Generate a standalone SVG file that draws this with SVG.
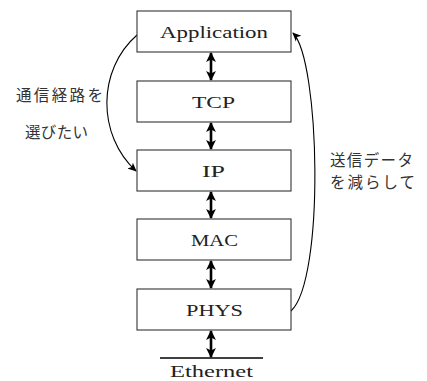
<svg xmlns="http://www.w3.org/2000/svg" width="427" height="381" viewBox="0 0 427 381">
<style>
.box{fill:#fff;stroke:#333;stroke-width:1.1}
.lbl{font-family:"Liberation Serif","DejaVu Serif",serif;font-size:17px;fill:#222;text-anchor:middle}
.jp{font-family:"Noto Sans CJK JP","Noto Sans",sans-serif;font-size:15.5px;fill:#333}
.dbl{stroke:#000;stroke-width:2.6;fill:none;marker-start:url(#hs);marker-end:url(#he)}
.crv{stroke:#000;stroke-width:1.1;fill:none;marker-end:url(#ha)}
</style>
<defs>
<marker id="he" viewBox="0 0 10 10" refX="9" refY="5" markerWidth="3.8" markerHeight="3.8" orient="auto" markerUnits="strokeWidth"><path d="M0,0 L10,5 L0,10 L2.5,5 Z" fill="#000"/></marker>
<marker id="hs" viewBox="0 0 10 10" refX="9" refY="5" markerWidth="3.8" markerHeight="3.8" orient="auto-start-reverse" markerUnits="strokeWidth"><path d="M0,0 L10,5 L0,10 L2.5,5 Z" fill="#000"/></marker>
<marker id="ha" viewBox="0 0 10 10" refX="9" refY="5" markerWidth="8" markerHeight="8" orient="auto" markerUnits="strokeWidth"><path d="M0,0.5 L10,5 L0,9.5 L2.5,5 Z" fill="#000"/></marker>
</defs>
<g id="connectors">
<line class="dbl" x1="211" y1="53" x2="211" y2="80"/>
<line class="dbl" x1="211" y1="123" x2="211" y2="149"/>
<line class="dbl" x1="211" y1="192" x2="211" y2="218"/>
<line class="dbl" x1="211" y1="261" x2="211" y2="288"/>
<line class="dbl" x1="211" y1="331" x2="211" y2="357"/>
<path class="crv" d="M137,35 C97,70 97,135 136,171"/>
<path class="crv" d="M291,311 C325,280 320,60 293,33"/>
</g>
<g id="ethernet">
<line x1="160" y1="358" x2="263" y2="358" stroke="#000" stroke-width="1.6"/>
<text class="lbl" x="211.5" y="377" textLength="83" lengthAdjust="spacingAndGlyphs">Ethernet</text>
</g>
<g id="application"><rect class="box" x="137" y="11" width="154" height="41"/><text class="lbl" x="214" y="37.5" textLength="108" lengthAdjust="spacingAndGlyphs">Application</text></g>
<g id="tcp"><rect class="box" x="137" y="81" width="154" height="41"/><text class="lbl" x="213.5" y="107.5" textLength="43" lengthAdjust="spacingAndGlyphs">TCP</text></g>
<g id="ip"><rect class="box" x="137" y="150" width="154" height="41"/><text class="lbl" x="213.5" y="176.5" textLength="23" lengthAdjust="spacingAndGlyphs">IP</text></g>
<g id="mac"><rect class="box" x="137" y="219" width="154" height="41"/><text class="lbl" x="214.5" y="245.5" textLength="47" lengthAdjust="spacingAndGlyphs">MAC</text></g>
<g id="phys"><rect class="box" x="137" y="289" width="154" height="41"/><text class="lbl" x="214.5" y="315.5" textLength="57" lengthAdjust="spacingAndGlyphs">PHYS</text></g>
<g id="labels">
<text class="jp" x="16" y="101" textLength="87" lengthAdjust="spacing">通信経路を</text>
<text class="jp" x="25" y="138" textLength="63" lengthAdjust="spacing">選びたい</text>
<text class="jp" x="330" y="166" textLength="83" lengthAdjust="spacing">送信データ</text>
<text class="jp" x="330" y="188" textLength="85" lengthAdjust="spacing">を減らして</text>
</g>
</svg>
